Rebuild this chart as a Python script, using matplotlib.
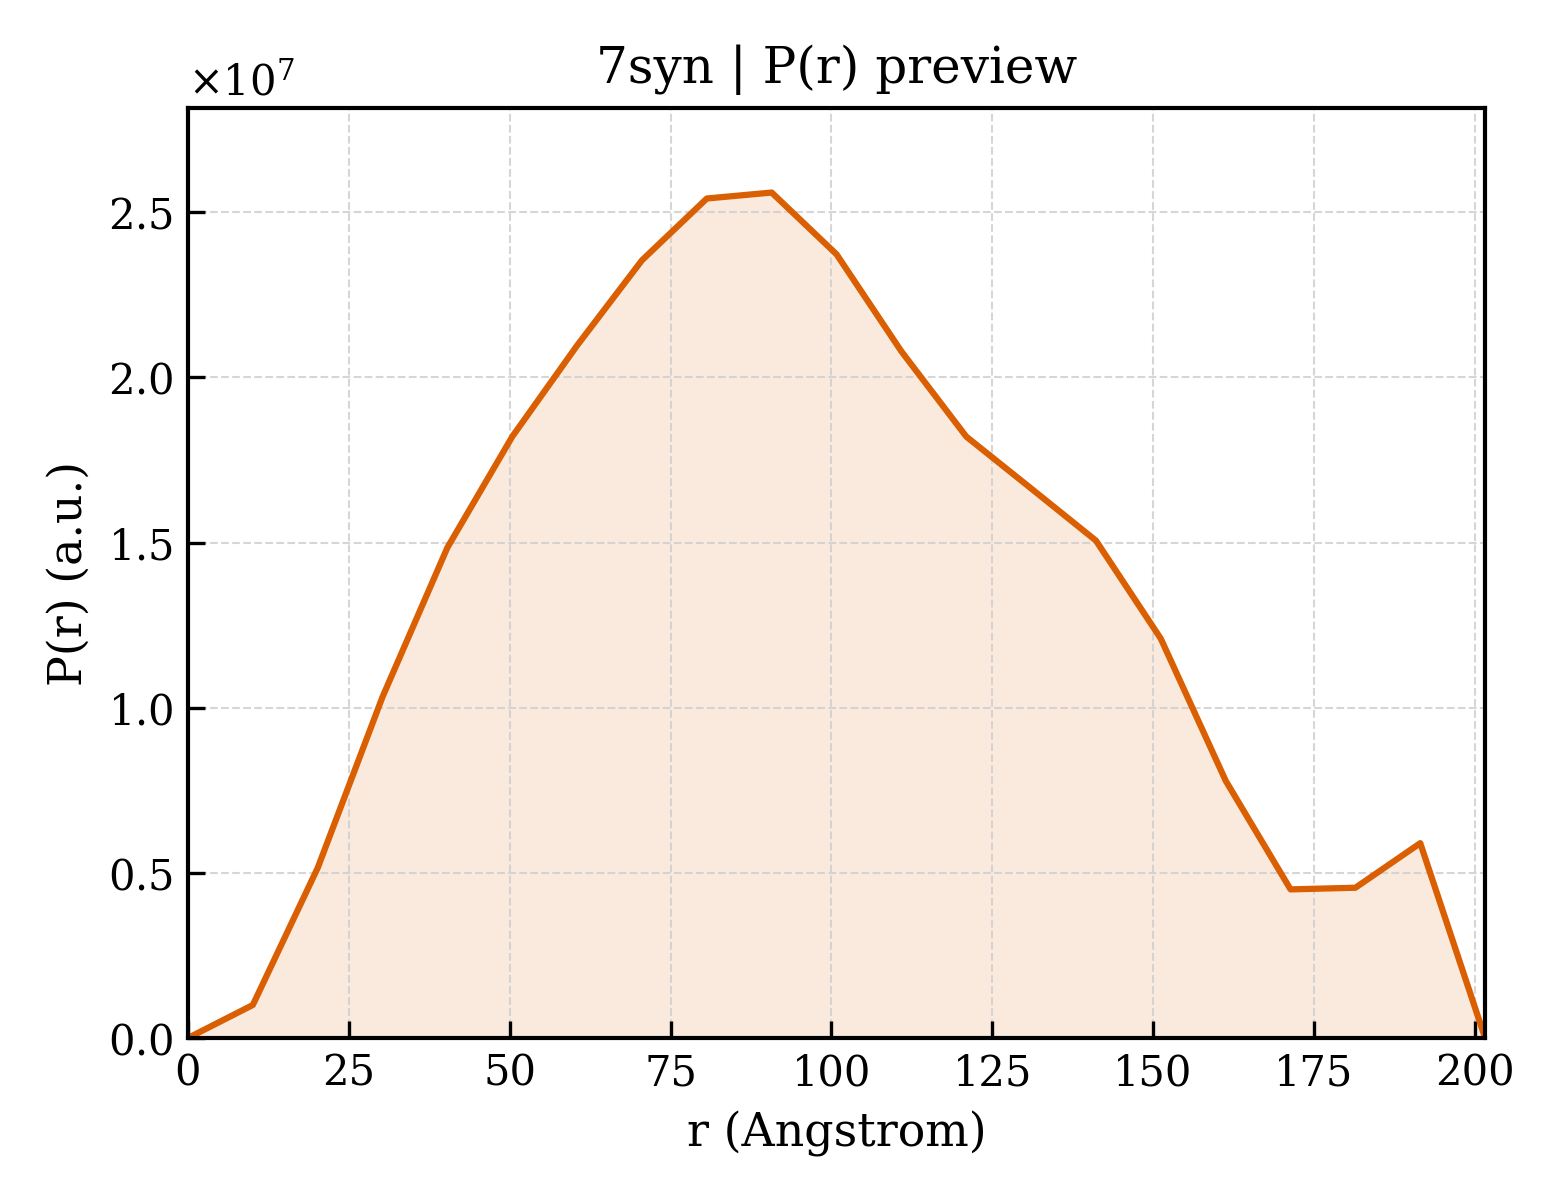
import numpy as np
import matplotlib
matplotlib.use("Agg")
import matplotlib.pyplot as plt
from matplotlib.ticker import ScalarFormatter

# P(r) curve (r in Angstrom, P in a.u.)
r = [0.0, 10.08, 20.16, 30.24, 40.32, 50.4, 60.48, 70.56, 80.64, 90.72,
     100.8, 110.88, 120.96, 131.04, 141.12, 151.2, 161.28, 171.36, 181.44,
     191.52, 201.6]
pr = [0.0, 1.0e6, 5.15e6, 10.33e6, 14.85e6, 18.21e6, 20.97e6, 23.55e6,
      25.42e6, 25.6e6, 23.73e6, 20.79e6, 18.21e6, 16.64e6, 15.06e6,
      12.09e6, 7.79e6, 4.5e6, 4.55e6, 5.9e6, 0.0]

NARANJA = "#d95f02"

plt.rcParams["font.family"] = "DejaVu Serif"
plt.rcParams["mathtext.fontset"] = "dejavuserif"

fig, ax = plt.subplots(figsize=(5.2, 4), dpi=300)
ax.plot(r, pr, color=NARANJA, linewidth=1.5)
ax.fill_between(r, 0, pr, color=NARANJA, alpha=0.13, linewidth=0)
ax.set_xlim(0, max(r))
ax.set_ylim(0, max(pr) * 1.1)
ax.set_title("7syn | P(r) preview", fontsize=12)
ax.set_xlabel("r (Angstrom)", fontsize=11)
ax.set_ylabel("P(r) (a.u.)", fontsize=11)
fmt = ScalarFormatter(useMathText=True)
fmt.set_powerlimits((0, 0))
ax.yaxis.set_major_formatter(fmt)
ax.tick_params(direction="in", labelsize=10, length=4, width=0.8)
ax.grid(linestyle="--", color="#cccccc", linewidth=0.5, alpha=0.8)
for s in ax.spines.values():
    s.set_linewidth(1.0)
ax.yaxis.get_offset_text().set_fontsize(10)
plt.subplots_adjust(left=0.1205, right=0.952, top=0.91, bottom=0.135)
plt.savefig("out.png", dpi=300)
plt.close()
